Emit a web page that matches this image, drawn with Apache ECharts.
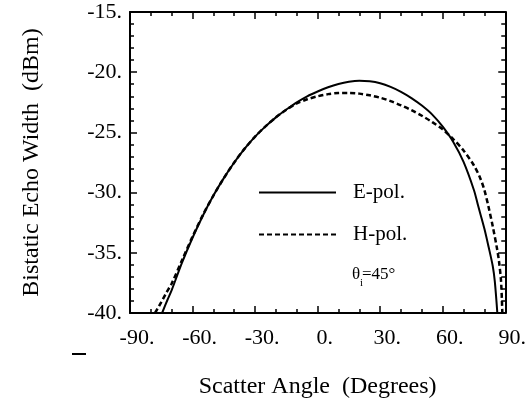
<!DOCTYPE html>
<html>
<head>
<meta charset="utf-8">
<script src="https://cdn.jsdelivr.net/npm/echarts@6/dist/echarts.min.js"></script>
<style>
  html, body { margin: 0; padding: 0; background: #fff; }
  #chart { width: 529px; height: 406px; }
</style>
</head>
<body>
<div id="chart"></div>
<script>
// values
const xTicks = [-90, -60, -30, 0, 30, 60, 90];
const yTicks = [-40, -35, -30, -25, -20, -15];

const eAngles = [-74.6, -72, -70, -65, -60, -55, -50, -45, -40, -35, -30, -25, -20, -15, -10, -5, 0, 5, 10, 15, 20, 25, 30, 35, 40, 45, 50, 55, 60, 65, 70, 75, 77, 80, 82, 84, 85, 86.2];
const eValues = [-40, -38.9, -38.1, -35.8, -33.75, -31.9, -30.25, -28.8, -27.5, -26.35, -25.35, -24.5, -23.75, -23.1, -22.5, -22.0, -21.6, -21.25, -20.98, -20.8, -20.72, -20.76, -20.92, -21.22, -21.63, -22.15, -22.77, -23.52, -24.52, -25.77, -27.45, -29.8, -31.1, -33.0, -34.5, -36.1, -37.4, -40];

const hAngles = [-78, -75, -72.5, -70, -65, -60, -55, -50, -45, -40, -35, -30, -25, -20, -15, -10, -5, 0, 5, 10, 15, 20, 25, 30, 35, 40, 45, 50, 55, 60, 65, 70, 75, 78, 80, 82, 84, 86, 87, 88, 88.6];
const hValues = [-40, -39.1, -38.3, -37.55, -35.6, -33.65, -31.85, -30.25, -28.8, -27.5, -26.35, -25.35, -24.5, -23.75, -23.12, -22.6, -22.25, -22.0, -21.82, -21.73, -21.72, -21.78, -21.92, -22.12, -22.4, -22.75, -23.15, -23.62, -24.15, -24.75, -25.55, -26.5, -27.75, -28.8, -29.8, -31.2, -32.8, -34.6, -35.7, -37.4, -40];

const zip = (xs, ys) => xs.map((x, i) => [x, ys[i]]);
const serif = 'Liberation Serif';

const chart = echarts.init(document.getElementById('chart'), null, { renderer: 'canvas' });

const baseX = {
    type: 'value',
    min: xTicks[0],
    max: xTicks[xTicks.length - 1],
    interval: 30,
    splitLine: { show: false },
    axisLine: { show: true, onZero: false, lineStyle: { color: '#000', width: 2 } },
    axisTick: { show: true, inside: true, length: 7, lineStyle: { color: '#000', width: 1.5 } },
    minorTick: { show: true, splitNumber: 3, length: 4, lineStyle: { color: '#000', width: 1.5 } }
};
const baseY = {
    type: 'value',
    min: yTicks[0],
    max: yTicks[yTicks.length - 1],
    interval: 5,
    splitLine: { show: false },
    axisLine: { show: true, onZero: false, lineStyle: { color: '#000', width: 2 } },
    axisTick: { show: true, inside: true, length: 7, lineStyle: { color: '#000', width: 1.5 } },
    minorTick: { show: true, splitNumber: 5, length: 4, lineStyle: { color: '#000', width: 1.5 } }
};

chart.setOption({
    backgroundColor: '#fff',
    animation: false,
    grid: { left: 130, right: 21, top: 12, bottom: 93 },
    legend: {
        orient: 'vertical',
        left: 258,
        top: 182,
        padding: 0,
        itemWidth: 77,
        itemHeight: 20,
        itemGap: 21,
        itemStyle: { opacity: 0 },
        textStyle: { fontFamily: serif, fontSize: 21, color: '#000', padding: [0, 0, 0, 12] },
        data: ['E-pol.', 'H-pol.']
    },
    xAxis: [
        Object.assign({}, baseX, {
            position: 'bottom',
            name: 'Scatter Angle  (Degrees)',
            nameLocation: 'middle',
            nameGap: 62,
            nameTextStyle: { fontFamily: serif, fontSize: 24, color: '#000' },
            axisLabel: {
                fontFamily: serif, fontSize: 22, color: '#000', margin: 14,
                padding: [0, 0, 0, 14],
                formatter: v => v + '.'
            }
        }),
        Object.assign({}, baseX, { position: 'top', axisLabel: { show: false } })
    ],
    yAxis: [
        Object.assign({}, baseY, {
            position: 'left',
            name: 'Bistatic Echo Width  (dBm)',
            nameLocation: 'middle',
            nameRotate: 90,
            nameGap: 86,
            nameTextStyle: { fontFamily: serif, fontSize: 24, color: '#000' },
            axisLabel: {
                fontFamily: serif, fontSize: 22, color: '#000', margin: 8,
                formatter: v => v + '.'
            }
        }),
        Object.assign({}, baseY, { position: 'right', axisLabel: { show: false } })
    ],
    series: [
        {
            name: 'E-pol.',
            type: 'line',
            data: zip(eAngles, eValues),
            smooth: 0.3,
            symbol: 'none',
            lineStyle: { color: '#000', width: 2 },
            itemStyle: { color: '#000' }
        },
        {
            name: 'H-pol.',
            type: 'line',
            data: zip(hAngles, hValues),
            smooth: 0.3,
            symbol: 'none',
            lineStyle: { color: '#000', width: 2.5, type: [5, 3] },
            itemStyle: { color: '#000' }
        }
    ],
    graphic: [
        { type: 'text', left: 352, top: 266, style: { text: 'θ', font: '17px "Liberation Serif"', fill: '#000' } },
        { type: 'text', left: 360, top: 278, style: { text: 'i', font: '11px "Liberation Serif"', fill: '#000' } },
        { type: 'text', left: 362, top: 266, style: { text: '=45°', font: '17px "Liberation Serif"', fill: '#000' } },
        { type: 'rect', left: 72, top: 353, shape: { width: 14, height: 2 }, style: { fill: '#000' } }
    ]
});
</script>
</body>
</html>
